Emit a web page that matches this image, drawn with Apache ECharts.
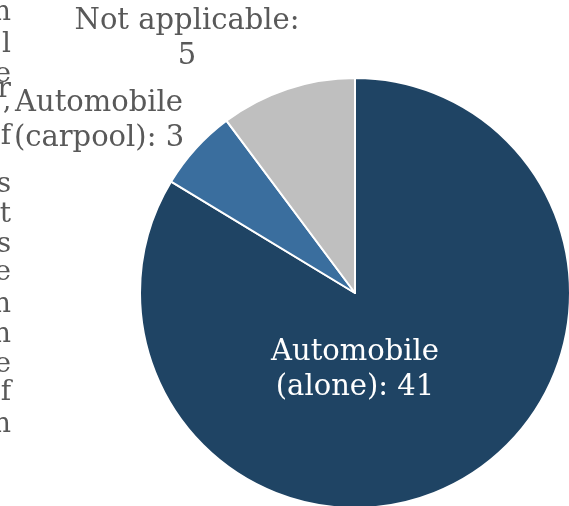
<!DOCTYPE html>
<html>
<head>
<meta charset="utf-8">
<script src="https://cdn.jsdelivr.net/npm/echarts@6/dist/echarts.min.js"></script>
<style>
html,body{margin:0;padding:0;background:#fff;}
#c{width:569px;height:506px;}
</style>
</head>
<body>
<div id="c"></div>
<script>
const categories = ['Automobile (alone)', 'Automobile (carpool)', 'Not applicable'];
const labelLines = [['Automobile', '(alone): 41'], ['Automobile', '(carpool): 3'], ['Not applicable:', '5']];
const values = [41, 3, 5];
const colors = ['#1F4464', '#3A6E9E', '#BFBFBF'];
const sideLetters = ['n','l','e','r','\u2019','f','s','t','s','e','n','n','e','f','n'];
const sideY = [13,45,75,90,120,137,185,215,245,273,305,335,365,393,425];

const chart = echarts.init(document.getElementById('c'), null, {renderer: 'canvas'});
const font = '"DejaVu Serif", serif';
const labelPos = [[355, 370], [99, 121], [187, 39]];

chart.setOption({
  animation: false,
  backgroundColor: '#fff',
  graphic: [
    {type: 'text', left: 288, top: -22, style: {text: 'SCHOOL?', fill: '#4A90C8', font: 'bold 29px ' + font}},
    ...sideLetters.map((ch, i) => ({type: 'text', x: 11, y: sideY[i], style: {text: ch, fill: '#595959', font: '28px ' + font, align: 'right', verticalAlign: 'middle'}}))
  ],
  series: [{
    type: 'pie',
    center: [355, 293],
    radius: 215,
    startAngle: 90,
    clockwise: true,
    itemStyle: {borderColor: '#fff', borderWidth: 2},
    labelLine: {show: false},
    label: {
      show: true,
      fontFamily: font,
      fontSize: 29,
      lineHeight: 35,
      color: '#595959',
      align: 'center',
      overflow: 'none',
      formatter: p => labelLines[p.dataIndex].join('\n')
    },
    labelLayout: p => ({x: labelPos[p.dataIndex][0], y: labelPos[p.dataIndex][1], align: 'center', verticalAlign: 'middle', hideOverlap: false}),
    data: categories.map((c, i) => ({
      name: c, value: values[i], itemStyle: {color: colors[i]},
      label: i === 0 ? {color: '#ffffff'} : {}
    }))
  }]
});
</script>
</body>
</html>
